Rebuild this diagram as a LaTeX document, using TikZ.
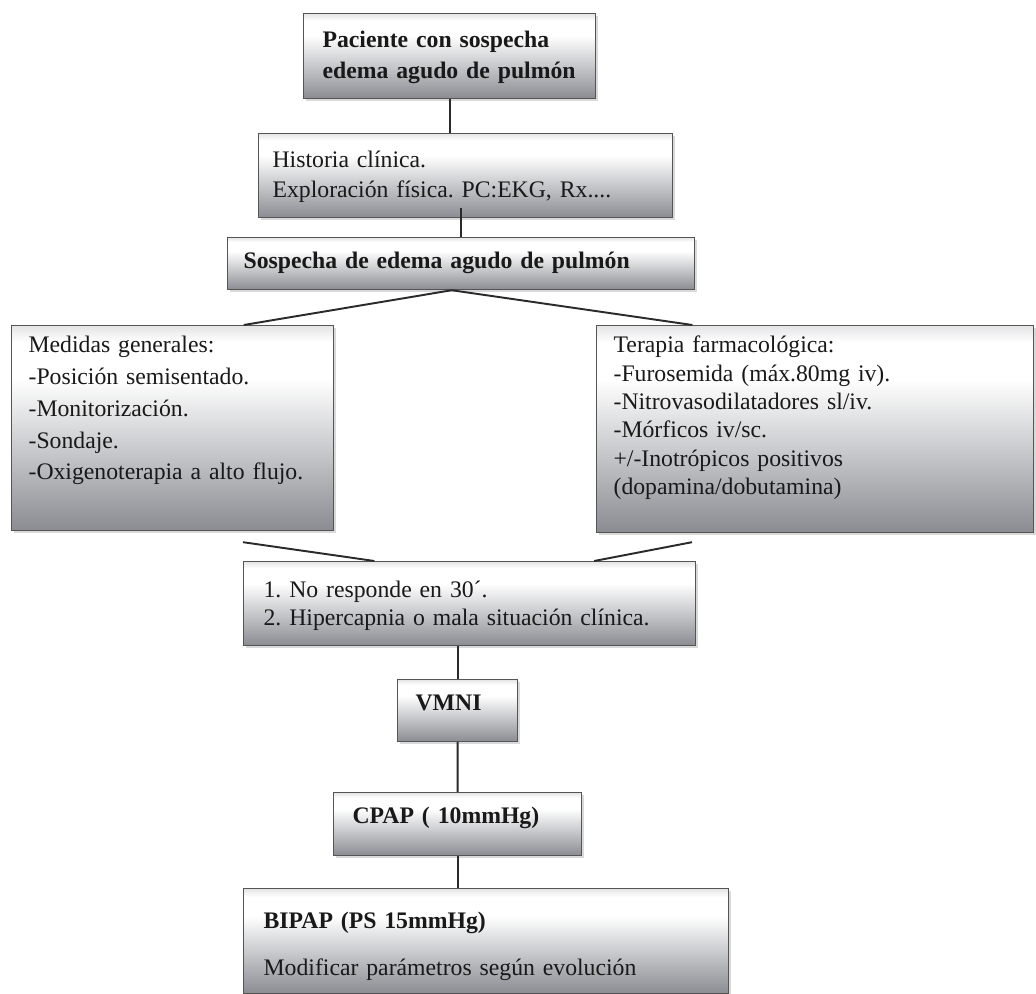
\documentclass[tikz,border=0pt]{standalone}
\usepackage{fontspec}
\setmainfont{Liberation Serif}
\usetikzlibrary{calc, shadows}
\usepackage{xcolor}
\definecolor{boxline}{HTML}{555555}
\definecolor{boxbot}{HTML}{8A8C92}
\definecolor{boxtop}{HTML}{E4E4E6}
\definecolor{linkcol}{HTML}{2A2A2A}
\pgfdeclareverticalshading{boxgrad}{100bp}{color(0bp)=(boxbot); color(25bp)=(boxbot);
  color(62bp)=(white); color(71bp)=(white); color(75bp)=(boxtop); color(100bp)=(boxtop)}
\frenchspacing

\begin{document}
\begin{tikzpicture}[x=0.02cm, y=-0.02cm,
    box/.style={draw=boxline, line width=0.7pt, shading=boxgrad, anchor=north west,
                drop shadow={opacity=0.3, shadow xshift=1.2pt, shadow yshift=-1.5pt},
                inner ysep=0pt, align=left, text=black!90,
                font=\fontsize{13.5}{17.6}\selectfont},
    link/.style={draw=linkcol, line width=1.1pt}]
    \useasboundingbox (0,0) rectangle (1036,994);

    \node[box, font=\fontsize{13.5}{17.6}\selectfont\bfseries, inner xsep=0.38cm,
          text width=5.08cm, text height=0.68cm, text depth=1.02cm] (pac) at (303,13)
      {Paciente con sospecha\\edema agudo de pulmón};
    \node[box, font=\fontsize{13.5}{17}\selectfont, inner xsep=0.28cm,
          text width=7.72cm, text height=0.68cm, text depth=1.0cm] (hist) at (258,133)
      {Historia clínica.\\Exploración física. PC:EKG, Rx....};
    \node[box, font=\fontsize{13.5}{17}\selectfont\bfseries, inner xsep=0.32cm,
          text width=8.7cm, text height=0.62cm, text depth=0.42cm] (sosp) at (227,237)
      {Sospecha de edema agudo de pulmón};
    \node[box, font=\fontsize{13.5}{18.1}\selectfont, inner xsep=0.34cm,
          text width=5.76cm, text height=0.54cm, text depth=3.56cm] (med) at (11,325)
      {Medidas generales:\\-Posición semisentado.\\-Monitorización.\\-Sondaje.\\-Oxigenoterapia a alto flujo.};
    \node[box, font=\fontsize{13.5}{16.2}\selectfont, inner xsep=0.34cm,
          text width=8.06cm, text height=0.54cm, text depth=3.6cm] (ter) at (596,325)
      {Terapia farmacológica:\\-Furosemida (máx.80mg iv).\\-Nitrovasodilatadores sl/iv.\\-Mórficos iv/sc.\\+/-Inotrópicos positivos\\(dopamina/dobutamina)};
    \node[box, font=\fontsize{13.5}{15.9}\selectfont, inner xsep=0.4cm,
          text width=8.24cm, text height=0.72cm, text depth=0.96cm] (nr) at (243,561)
      {1. No responde en 30´.\\2. Hipercapnia o mala situación clínica.};
    \node[box, font=\fontsize{13.5}{17}\selectfont\bfseries, inner xsep=0.36cm,
          text width=1.68cm, text height=0.62cm, text depth=0.62cm] (vmni) at (397,679)
      {VMNI};
    \node[box, font=\fontsize{13.5}{17}\selectfont\bfseries, inner xsep=0.38cm,
          text width=4.2cm, text height=0.62cm, text depth=0.64cm] (cpap) at (333,792)
      {CPAP ( 10mmHg)};
    \node[box, inner xsep=0.4cm,
          text width=8.9cm, text height=0.8cm, text depth=1.3cm] (bip) at (243,888)
      {\textbf{BIPAP (PS 15mmHg)}\\[9pt]Modificar parámetros según evolución};

    \coordinate (fork) at ($(sosp.south west)!0.48!(sosp.south east)$);
    \draw[link] (pac.south) -- (pac.south |- hist.north);
    \draw[link] ($(hist.south -| sosp.north)+(0,-10)$) -- (sosp.north);
    \draw[link] (fork) -- ($(med.north west)!0.72!(med.north east)$);
    \draw[link] (fork) -- ($(ter.north west)!0.22!(ter.north east)$);
    \draw[link] ($(med.south west)+(232,11)$) -- ($(nr.north west)!0.29!(nr.north east)$);
    \draw[link] ($(ter.south west)+(96,9)$) -- ($(nr.north west)!0.775!(nr.north east)$);
    \draw[link] (nr.south -| vmni.north) -- (vmni.north);
    \draw[link] (vmni.south) -- (cpap.north);
    \draw[link] (cpap.south) -- (cpap.south |- bip.north);
\end{tikzpicture}
\end{document}
